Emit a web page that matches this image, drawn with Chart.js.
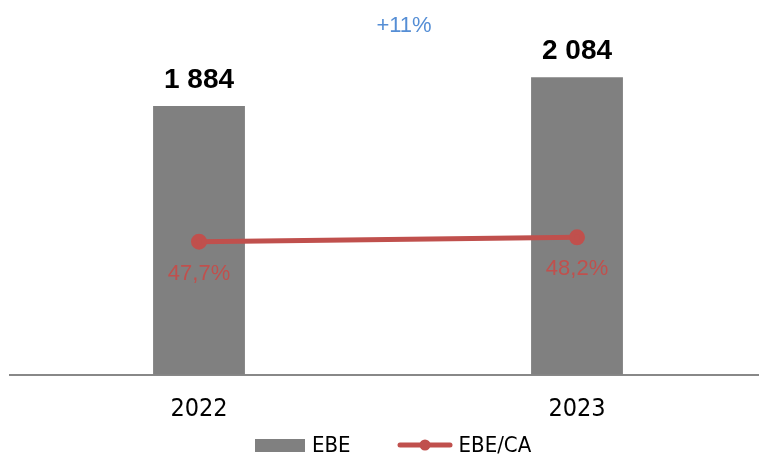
<!DOCTYPE html>
<html>
<head>
<meta charset="utf-8">
<script src="https://cdn.jsdelivr.net/npm/chart.js@4"></script>
<style>
  html, body { margin: 0; padding: 0; background: #fff; overflow: hidden; }
  #wrap { position: relative; width: 766px; height: 455px; }
  #legend {
    position: absolute; left: 255px; top: 432px;
    display: flex; align-items: center;
    font-family: "DejaVu Sans Condensed", "DejaVu Sans", sans-serif;
    font-size: 22px; color: #000; line-height: 26px;
  }
  #legend .item { display: flex; align-items: center; }
  #legend .item + .item { margin-left: 46px; }
  #legend .swatch { margin-right: 7px; }
</style>
</head>
<body>
<div id="wrap">
  <canvas id="myChart" width="766" height="455"></canvas>
  <div id="legend"></div>
</div>
<script>
const years = ['2022', '2023'];
const ebe = [1884, 2084];
const ebeRatio = [47.7, 48.2];

const BAR_COLOR = '#808080';
const LINE_COLOR = '#c0504d';
const GROWTH_COLOR = '#558ed5';

function fmtThousands(v) {
    return String(v).replace(/\B(?=(\d{3})+(?!\d))/g, ' ');
}

function fmtPct(v) {
    return v.toFixed(1).replace('.', ',') + '%';
}

const labelsPlugin = {
    id: 'valueLabels',
    afterDatasetsDraw(chart) {
        const ctx = chart.ctx;
        const bars = chart.getDatasetMeta(0).data;
        const pts = chart.getDatasetMeta(1).data;
        ctx.save();
        ctx.textAlign = 'center';

        ctx.font = 'bold 28px "Liberation Sans", Arial, sans-serif';
        ctx.fillStyle = '#000';
        ctx.textBaseline = 'alphabetic';
        bars.forEach((b, i) => {
            ctx.fillText(fmtThousands(ebe[i]), b.x, b.y - 18);
        });

        ctx.font = '22px "Liberation Sans", Arial, sans-serif';
        ctx.fillStyle = LINE_COLOR;
        ctx.textBaseline = 'middle';
        pts.forEach((p, i) => {
            ctx.fillText(fmtPct(ebeRatio[i]), p.x, p.y + 32);
        });

        const growth = Math.round((ebe[1] / ebe[0] - 1) * 100);
        ctx.font = '22px "Liberation Sans", Arial, sans-serif';
        ctx.fillStyle = GROWTH_COLOR;
        ctx.fillText('+' + growth + '%', (bars[0].x + bars[1].x) / 2 + 16, 26);
        ctx.restore();
    }
};

// html legend, built from the datasets
const htmlLegend = {
    id: 'htmlLegend',
    afterUpdate(chart) {
        const box = document.getElementById('legend');
        box.innerHTML = '';
        chart.data.datasets.forEach(ds => {
            const item = document.createElement('div');
            item.className = 'item';
            const sw = document.createElement('canvas');
            sw.className = 'swatch';
            const g = sw.getContext('2d');
            if (ds.type === 'line') {
                sw.width = 56; sw.height = 12;
                sw.style.marginRight = '6px';
                g.strokeStyle = ds.borderColor;
                g.lineWidth = 5;
                g.lineCap = 'round';
                g.beginPath();
                g.moveTo(3, 6);
                g.lineTo(53, 6);
                g.stroke();
                g.fillStyle = ds.borderColor;
                g.beginPath();
                g.arc(28, 6, 5.5, 0, Math.PI * 2);
                g.fill();
            } else {
                sw.width = 50; sw.height = 13;
                g.fillStyle = ds.backgroundColor;
                g.fillRect(0, 0, 50, 13);
            }
            const txt = document.createElement('span');
            txt.textContent = ds.label;
            item.appendChild(sw);
            item.appendChild(txt);
            box.appendChild(item);
        });
    }
};

const ctx = document.getElementById('myChart').getContext('2d');
const myChart = new Chart(ctx, {
    type: 'bar',
    data: {
        labels: years,
        datasets: [{
            label: 'EBE',
            data: ebe,
            backgroundColor: BAR_COLOR,
            barPercentage: 0.243,
            categoryPercentage: 1,
            yAxisID: 'y',
            order: 1
        }, {
            type: 'line',
            label: 'EBE/CA',
            data: ebeRatio,
            borderColor: LINE_COLOR,
            backgroundColor: LINE_COLOR,
            borderWidth: 5,
            pointRadius: 5.5,
            pointHoverRadius: 5.5,
            yAxisID: 'y1',
            order: 0
        }]
    },
    options: {
        responsive: false,
        animation: false,
        layout: {
            autoPadding: false,
            padding: { left: 10, right: 0, top: 18, bottom: 35.3 }
        },
        scales: {
            x: {
                grid: { display: false },
                border: { display: true, color: '#888888', width: 2 },
                ticks: {
                    color: '#000',
                    padding: 12,
                    font: { family: '"DejaVu Sans Condensed", "DejaVu Sans", sans-serif', size: 25 }
                },
                afterFit(scale) {
                    scale.height = 45;
                }
            },
            y: {
                display: false,
                min: 0,
                max: 2500
            },
            y1: {
                display: false,
                min: 32.6,
                max: 73.1
            }
        },
        plugins: {
            legend: { display: false },
            tooltip: { enabled: false }
        }
    },
    plugins: [labelsPlugin, htmlLegend]
});
</script>
</body>
</html>
